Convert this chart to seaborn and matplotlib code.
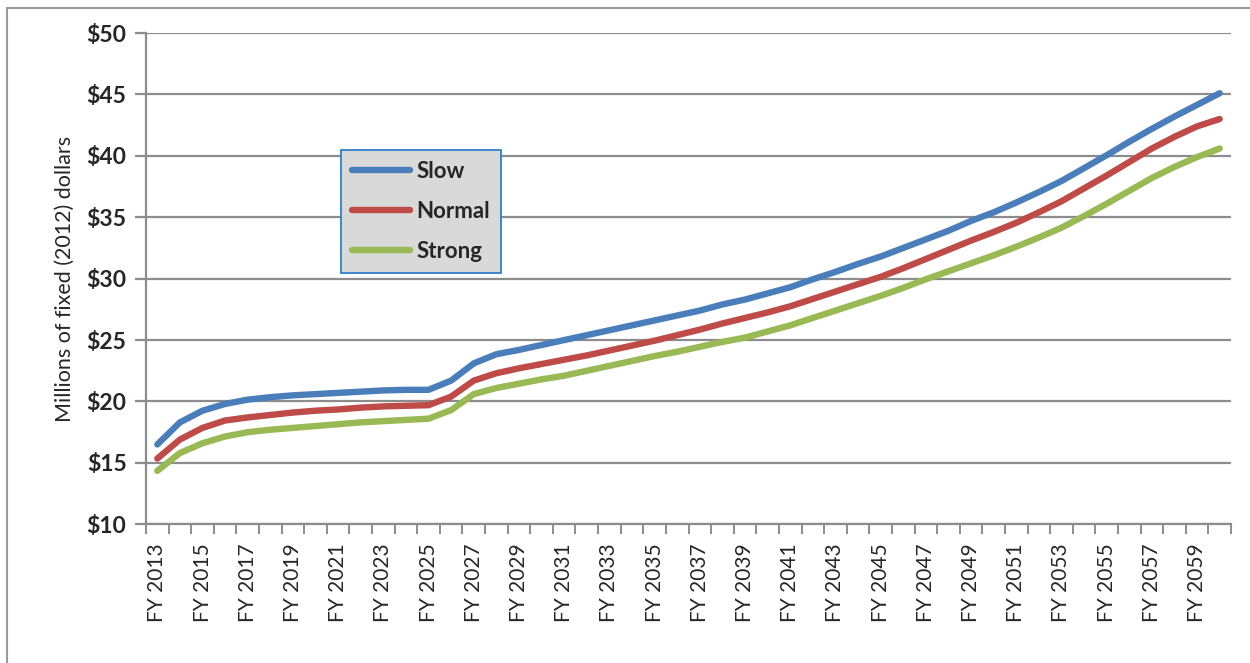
import matplotlib
matplotlib.use("Agg")
import matplotlib.pyplot as plt
from matplotlib.lines import Line2D
from matplotlib.ticker import FixedLocator, FuncFormatter
import numpy as np
import pandas as pd
import seaborn as sns

# ---- data ----
years = list(range(2013, 2061))

slow = [16.5, 18.3, 19.25, 19.8, 20.15, 20.35, 20.5, 20.6, 20.7, 20.8,
        20.9, 20.95, 20.95, 21.7, 23.1, 23.85, 24.2, 24.6, 25.0, 25.4,
        25.8, 26.2, 26.6, 27.0, 27.4, 27.9, 28.3, 28.8, 29.3, 29.95,
        30.55, 31.2, 31.8, 32.5, 33.2, 33.9, 34.7, 35.4, 36.2, 37.05,
        37.95, 39.0, 40.05, 41.15, 42.2, 43.2, 44.15, 45.1]

normal = [15.35, 16.9, 17.85, 18.45, 18.7, 18.9, 19.1, 19.25, 19.35, 19.5,
          19.6, 19.65, 19.7, 20.4, 21.7, 22.3, 22.7, 23.05, 23.4, 23.75,
          24.15, 24.55, 24.95, 25.4, 25.85, 26.35, 26.8, 27.25, 27.75, 28.35,
          28.95, 29.55, 30.15, 30.85, 31.6, 32.35, 33.1, 33.8, 34.55, 35.4,
          36.3, 37.35, 38.4, 39.5, 40.6, 41.55, 42.4, 43.0]

strong = [14.35, 15.8, 16.6, 17.15, 17.5, 17.7, 17.85, 18.0, 18.15, 18.3,
          18.4, 18.5, 18.6, 19.3, 20.6, 21.1, 21.45, 21.8, 22.1, 22.5,
          22.9, 23.3, 23.7, 24.05, 24.45, 24.85, 25.2, 25.7, 26.2, 26.8,
          27.4, 28.0, 28.6, 29.25, 29.95, 30.6, 31.25, 31.9, 32.6, 33.35,
          34.15, 35.1, 36.1, 37.15, 38.2, 39.1, 39.9, 40.6]

series_names = ["Slow", "Normal", "Strong"]
colors = ["#4a7ebb", "#be4b48", "#98b954"]
y_ticks = [10, 15, 20, 25, 30, 35, 40, 45, 50]

labels = ["FY %d" % y for y in years]
pos = np.arange(len(years))

df = pd.DataFrame({
    "pos": np.tile(pos, 3),
    "value": slow + normal + strong,
    "scenario": np.repeat(series_names, len(years)),
})

# ---- style ----
sns.set_style("white")
plt.rcParams["font.family"] = ["Lato", "DejaVu Sans"]

fig = plt.figure(figsize=(12.5, 6.63), dpi=100)
ax = fig.add_axes([0.1168, 0.2092, 0.868, 0.741])

grid_c = "#8c8c8c"
for v in y_ticks:
    ax.axhline(v, color=grid_c, lw=1.6, zorder=1)

sns.lineplot(data=df, x="pos", y="value", hue="scenario",
             palette=dict(zip(series_names, colors)), lw=4.6,
             ax=ax, legend=False, zorder=3)
for l in ax.lines:
    l.set_solid_capstyle("round")

ax.set_xlim(-0.5, len(years) - 0.5)
ax.set_ylim(10, 50)

ax.yaxis.set_major_locator(FixedLocator(y_ticks))
ax.yaxis.set_major_formatter(FuncFormatter(lambda v, p: "$%d" % v))
ax.tick_params(axis="y", length=8, width=1.6, color=grid_c, left=True,
               labelsize=16.5, pad=6)
for t in ax.get_yticklabels():
    t.set_fontweight("bold")

ax.xaxis.set_major_locator(FixedLocator(pos[::2]))
ax.set_xticklabels(labels[::2], rotation=90, fontsize=15)
ax.xaxis.set_minor_locator(FixedLocator(np.arange(-0.5, len(years), 1)))
ax.tick_params(axis="x", which="major", length=0, pad=14)
ax.tick_params(axis="x", which="minor", length=7, width=1.4, color=grid_c,
               bottom=True)

ax.set_xlabel("")
ax.set_ylabel("Millions of fixed (2012) dollars", fontsize=15.5, labelpad=8)

for s in ["top", "right"]:
    ax.spines[s].set_visible(False)
for s in ["left", "bottom"]:
    ax.spines[s].set_color(grid_c)
    ax.spines[s].set_linewidth(1.6)

handles = [Line2D([0], [0], color=c, lw=4.6, solid_capstyle="round")
           for c in colors]
leg = ax.legend(handles, series_names, loc="upper left",
                bbox_to_anchor=(0.1797, 0.762), borderaxespad=0,
                frameon=True, fancybox=False,
                handlelength=2.6, handletextpad=0.3, labelspacing=0.85,
                borderpad=0.5, prop={"weight": "bold", "size": 16})
leg.get_frame().set_facecolor("#d9d9d9")
leg.get_frame().set_edgecolor("#2f7fc8")
leg.get_frame().set_linewidth(1.3)
leg.get_frame().set_alpha(1)
leg.set_zorder(5)

# outer chart frame, clipped at right and bottom like the source
fig.add_artist(Line2D([7 / 1250, 7 / 1250], [0, 1 - 8 / 663],
                      color="#9a9a9a", lw=1.5, transform=fig.transFigure))
fig.add_artist(Line2D([7 / 1250, 1], [1 - 8 / 663, 1 - 8 / 663],
                      color="#9a9a9a", lw=1.5, transform=fig.transFigure))

fig.savefig("out.png", dpi=100)
